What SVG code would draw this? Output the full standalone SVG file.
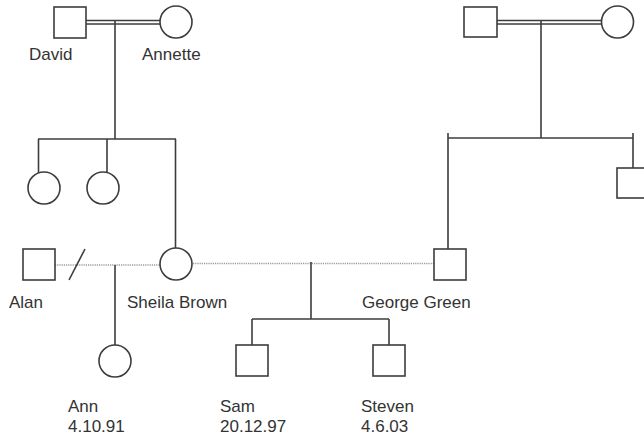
<svg xmlns="http://www.w3.org/2000/svg" width="644" height="437" viewBox="0 0 644 437">
<style>
.n{fill:#fff;stroke:#3c3c3c;stroke-width:1.6}
.l{fill:none;stroke:#3c3c3c;stroke-width:1.6}
.d{fill:none;stroke:#9a9a9a;stroke-width:1.4;stroke-dasharray:1.2 1}
text{font-family:"Liberation Sans",Arial,sans-serif;font-size:17px;fill:#333}
</style>
<rect width="644" height="437" fill="#fff"/>
<g id="connectors">
<line class="l" x1="86" y1="20.5" x2="160" y2="20.5"/>
<line class="l" x1="86" y1="24" x2="160" y2="24"/>
<line class="l" x1="115" y1="21" x2="115" y2="139"/>
<line class="l" x1="38" y1="139" x2="176" y2="139"/>
<line class="l" x1="38.5" y1="139" x2="38.5" y2="173"/>
<line class="l" x1="107" y1="139" x2="107" y2="173"/>
<line class="l" x1="175.5" y1="139" x2="175.5" y2="248"/>
<line class="l" x1="497" y1="20.5" x2="602" y2="20.5"/>
<line class="l" x1="497" y1="24" x2="602" y2="24"/>
<line class="l" x1="541" y1="21" x2="541" y2="138"/>
<line class="l" x1="448" y1="138" x2="633" y2="138"/>
<line class="l" x1="448" y1="133" x2="448" y2="249"/>
<line class="l" x1="633" y1="133" x2="633" y2="168"/>
<line class="d" x1="55" y1="265" x2="160" y2="265"/>
<line class="l" x1="85" y1="249" x2="69" y2="280"/>
<line class="l" x1="115" y1="265" x2="115" y2="345"/>
<line class="d" x1="193" y1="263.5" x2="434" y2="263.5"/>
<line class="l" x1="311" y1="262" x2="311" y2="319"/>
<line class="l" x1="252" y1="319" x2="389" y2="319"/>
<line class="l" x1="252" y1="319" x2="252" y2="345"/>
<line class="l" x1="389" y1="319" x2="389" y2="345"/>
</g>
<g id="david"><rect class="n" x="54" y="7" width="32" height="31"/><text x="29" y="60">David</text></g>
<g id="annette"><circle class="n" cx="176" cy="22" r="16"/><text x="142" y="60">Annette</text></g>
<g id="daughter1"><circle class="n" cx="44" cy="188" r="16"/></g>
<g id="daughter2"><circle class="n" cx="103" cy="188" r="16"/></g>
<g id="grandfather"><rect class="n" x="464" y="7" width="33" height="30"/></g>
<g id="grandmother"><circle class="n" cx="617.5" cy="22" r="16"/></g>
<g id="son2"><rect class="n" x="617" y="168" width="32" height="30"/></g>
<g id="alan"><rect class="n" x="23" y="249" width="32" height="31"/><text x="9" y="308">Alan</text></g>
<g id="sheila"><circle class="n" cx="176" cy="264" r="16"/><text x="127" y="308">Sheila Brown</text></g>
<g id="george"><rect class="n" x="434" y="249" width="32" height="31"/><text x="362" y="308">George Green</text></g>
<g id="ann"><circle class="n" cx="115" cy="361" r="16"/><text x="68" y="412">Ann</text><text x="68" y="432">4.10.91</text></g>
<g id="sam"><rect class="n" x="236" y="345" width="32" height="31"/><text x="220" y="412">Sam</text><text x="220" y="432">20.12.97</text></g>
<g id="steven"><rect class="n" x="373" y="345" width="32" height="31"/><text x="361" y="412">Steven</text><text x="361" y="432">4.6.03</text></g>
</svg>
